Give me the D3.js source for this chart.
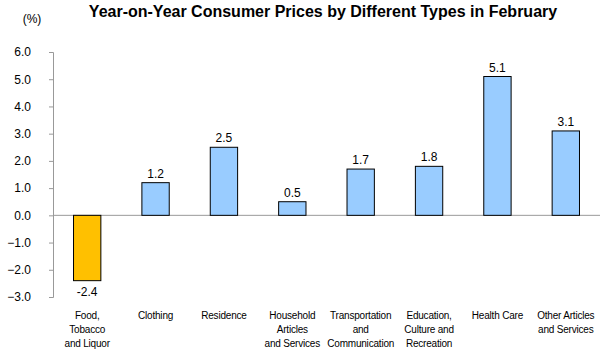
<!DOCTYPE html>
<html>
<head>
<meta charset="utf-8">
<script src="https://cdn.jsdelivr.net/npm/d3@7"></script>
<style>
  body { margin: 0; background: #fff; }
  text { font-family: Arial, "Liberation Sans", sans-serif; }
</style>
</head>
<body>
<div id="chart"></div>
<script>
var categories = [
    ["Food,", "Tobacco", "and Liquor"],
    ["Clothing"],
    ["Residence"],
    ["Household", "Articles", "and Services"],
    ["Transportation", "and", "Communication"],
    ["Education,", "Culture and", "Recreation"],
    ["Health Care"],
    ["Other Articles", "and Services"]
];
var values = [-2.4, 1.2, 2.5, 0.5, 1.7, 1.8, 5.1, 3.1];
var yTicks = [-3, -2, -1, 0, 1, 2, 3, 4, 5, 6];

var totalW = 610, totalH = 353;
var margin = { top: 52, right: 10, bottom: 56, left: 53 },
    width = totalW - margin.left - margin.right,
    height = totalH - margin.top - margin.bottom;

var svg = d3.select("#chart")
    .append("svg")
    .attr("width", totalW)
    .attr("height", totalH)
    .append("g")
    .attr("transform", "translate(" + margin.left + "," + margin.top + ")");

// X scale
const x = d3.scaleBand()
    .domain(d3.range(categories.length))
    .range([0, width])
    .paddingInner(0.6)
    .paddingOuter(0.3);

// Y scale
const y = d3.scaleLinear()
    .domain([-3, 6])
    .range([height, 0]);

// Y axis
var yAxis = svg.append("g")
    .call(d3.axisLeft(y).tickValues(yTicks).tickFormat(d3.format(".1f")).tickSize(4).tickPadding(18));
yAxis.selectAll("path, line").attr("stroke", "#999");
yAxis.selectAll("text").style("font-size", "12px").attr("fill", "#000");

// zero line
svg.append("line")
    .attr("x1", 0).attr("x2", width)
    .attr("y1", y(0)).attr("y2", y(0))
    .attr("stroke", "#999");

// bars
svg.append("g")
    .selectAll("rect")
    .data(values)
    .join("rect")
    .attr("x", function (d, i) { return x(i); })
    .attr("width", x.bandwidth())
    .attr("y", function (d) { return d >= 0 ? y(d) : y(0); })
    .attr("height", function (d) { return Math.abs(y(d) - y(0)); })
    .attr("fill", function (d) { return d < 0 ? "#FFC000" : "#99CCFF"; })
    .attr("stroke", "#000")
    .attr("stroke-width", 1);

// value labels
svg.append("g")
    .selectAll("text")
    .data(values)
    .join("text")
    .attr("x", function (d, i) { return x(i) + x.bandwidth() / 2; })
    .attr("y", function (d) { return d >= 0 ? y(d) - 5 : y(d) + 15; })
    .attr("text-anchor", "middle")
    .style("font-size", "12px")
    .text(function (d) { return d.toFixed(1); });

// category labels
var cat = svg.append("g")
    .selectAll("text")
    .data(categories)
    .join("text")
    .attr("x", function (d, i) { return x(i) + x.bandwidth() / 2; })
    .attr("y", 319 - margin.top)
    .attr("text-anchor", "middle")
    .style("font-size", "10px")
    .style("letter-spacing", "-0.2px");
cat.selectAll("tspan")
    .data(function (d) { return d; })
    .join("tspan")
    .attr("x", function () { return d3.select(this.parentNode).attr("x"); })
    .attr("dy", function (d, j) { return j === 0 ? 0 : 14; })
    .text(function (d) { return d; });

// title
svg.append("text")
    .attr("x", 323 - margin.left)
    .attr("y", 17 - margin.top)
    .attr("text-anchor", "middle")
    .style("font-size", "16px")
    .style("font-weight", "bold")
    .text("Year-on-Year Consumer Prices by Different  Types in February");

// unit
svg.append("text")
    .attr("x", 32 - margin.left)
    .attr("y", 23 - margin.top)
    .attr("text-anchor", "middle")
    .style("font-size", "12px")
    .text("(%)");
</script>
</body>
</html>
